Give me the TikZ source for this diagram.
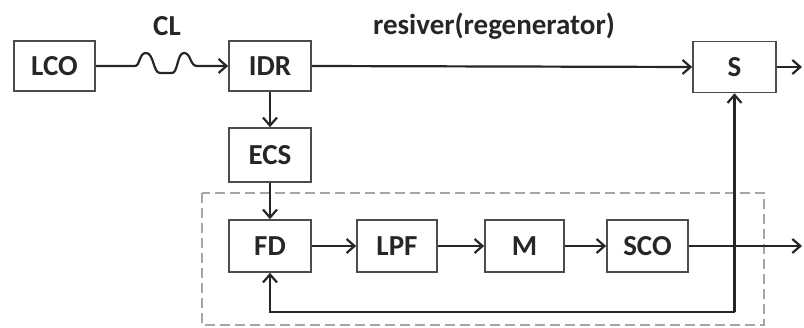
\documentclass[tikz,border=0pt]{standalone}
\usepackage{fontspec}
\setmainfont{Carlito}
\usetikzlibrary{arrows.meta}
\begin{document}
\begin{tikzpicture}[x=1pt,y=-1pt,
  >={Straight Barb[length=8pt,width=14pt]},
  blk/.style={draw=black!70,line width=1.6pt,rectangle,inner sep=0pt,
     font=\fontsize{29}{32}\selectfont\bfseries,text=black!85},
  conn/.style={draw=black!85,line width=2.2pt},
  lbl/.style={font=\fontsize{29}{32}\selectfont\bfseries,text=black!85}]
\useasboundingbox (0,0) rectangle (804,328);
\draw[gray!70,line width=2pt,dash pattern=on 10pt off 5pt] (202,193) rectangle (764,325);
\node[blk,minimum width=81pt,minimum height=50pt] (lco) at (54.5,66) {LCO};
\node[blk,minimum width=82pt,minimum height=50pt] (idr) at (270,66) {IDR};
\node[blk,minimum width=82pt,minimum height=54pt] (ecs) at (270,155) {ECS};
\node[blk,minimum width=82pt,minimum height=52pt] (fd) at (270,246) {FD};
\node[blk,minimum width=80pt,minimum height=52pt] (lpf) at (397,246) {LPF};
\node[blk,minimum width=79pt,minimum height=52pt] (m) at (524.5,246) {M};
\node[blk,minimum width=81pt,minimum height=52pt] (sco) at (647.5,246) {SCO};
\node[blk,minimum width=83pt,minimum height=51pt] (s) at (734.5,67) {S};
\node[lbl] (cl) at (167,26) {CL};
\node[lbl] (res) at (494,26) {resiver(regenerator)};
\coordinate (w1) at (135,66);
\coordinate (w2) at (197,66);
\draw[conn,->] (lco.east) -- (w1)
  .. controls (140,66) and (139,53) .. (146,53)
  .. controls (154,53) and (153,73) .. (160,73)
  .. controls (167,73) and (167,73) .. (172,73)
  .. controls (178,73) and (177,53) .. (184,53)
  .. controls (191,53) and (190,66) .. (w2) -- (idr.west);
\draw[conn,->] (idr.east) -- (s.west);
\coordinate (sout) at (802,67);
\draw[conn,->] (s.east) -- (sout);
\draw[conn,->] (idr.south) -- (ecs.north);
\draw[conn,->] (ecs.south) -- (fd.north);
\draw[conn,->] (fd.east) -- (lpf.west);
\draw[conn,->] (lpf.east) -- (m.west);
\draw[conn,->] (m.east) -- (sco.west);
\coordinate (scoout) at (802,246);
\draw[conn,->] (sco.east) -- (scoout);
\coordinate (fb) at (734.5,312);
\draw[conn,->] (fb) -- (s.south);
\draw[conn,->] (fb) -| (fd.south);
\end{tikzpicture}
\end{document}
